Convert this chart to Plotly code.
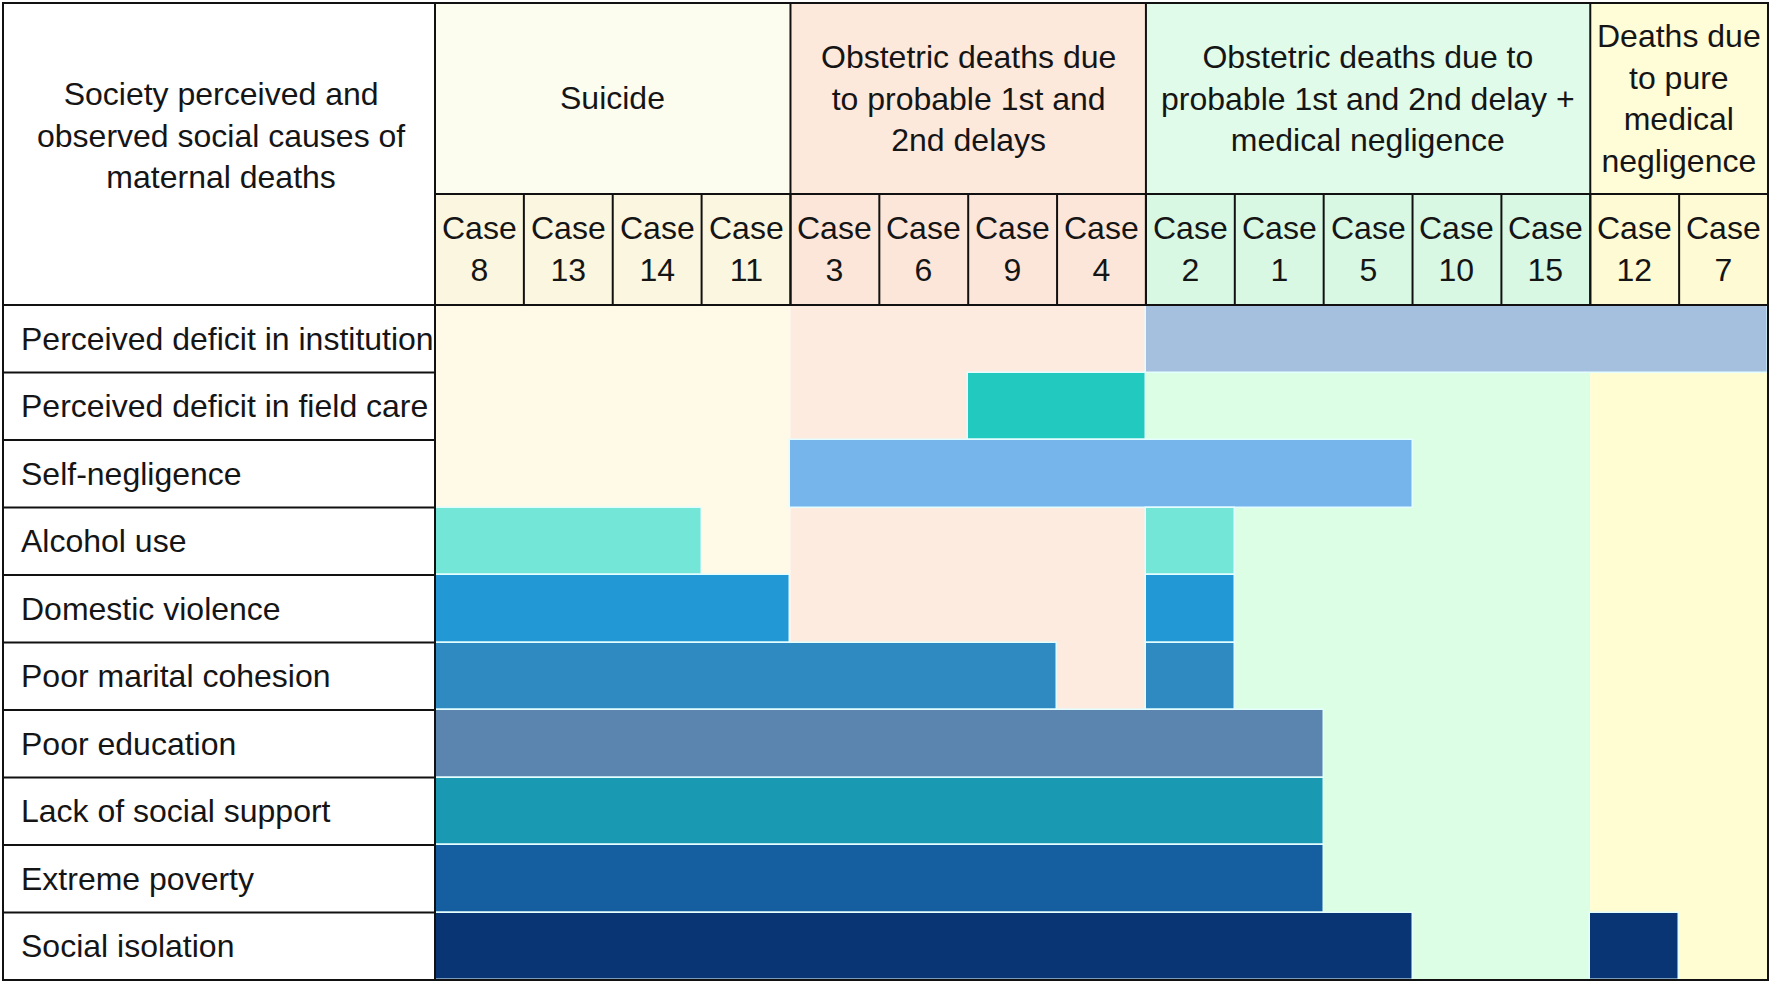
import plotly.graph_objects as go

# ---------------- data ----------------
cases = ["8", "13", "14", "11", "3", "6", "9", "4", "2", "1", "5", "10", "15", "12", "7"]

group_names = [
    "Suicide",
    "Obstetric deaths due<br>to probable 1st and<br>2nd delays",
    "Obstetric deaths due to<br>probable 1st and 2nd delay +<br>medical negligence",
    "Deaths due<br>to pure<br>medical<br>negligence",
]
group_sizes = [4, 4, 5, 2]
group_head_colors = ["#FDFDEF", "#FDE8DC", "#E1FBEA", "#FFFCD8"]
case_head_colors = ["#FBF6DF", "#FCE6D9", "#D9F8E4", "#FEFAD3"]
group_body_colors = ["#FFF9E7", "#FDEBE0", "#DCFEE4", "#FFFDD1"]

corner_title = "Society perceived and<br>observed social causes of<br>maternal deaths"

factors = [
    "Perceived deficit in institution",
    "Perceived deficit in field care",
    "Self-negligence",
    "Alcohol use",
    "Domestic violence",
    "Poor marital cohesion",
    "Poor education",
    "Lack of social support",
    "Extreme poverty",
    "Social isolation",
]
factor_colors = ["#A5C0DE", "#22C9BF", "#76B5EC", "#73E6D8", "#2298D5",
                 "#2E8AC0", "#5B85AF", "#1A99B3", "#155E9F", "#0A3575"]

# presence (1) of each factor per case, in the order of `cases`
deficit_institution = [0, 0, 0, 0, 0, 0, 0, 0, 1, 1, 1, 1, 1, 1, 1]
deficit_field_care  = [0, 0, 0, 0, 0, 0, 1, 1, 0, 0, 0, 0, 0, 0, 0]
self_negligence     = [0, 0, 0, 0, 1, 1, 1, 1, 1, 1, 1, 0, 0, 0, 0]
alcohol_use         = [1, 1, 1, 0, 0, 0, 0, 0, 1, 0, 0, 0, 0, 0, 0]
domestic_violence   = [1, 1, 1, 1, 0, 0, 0, 0, 1, 0, 0, 0, 0, 0, 0]
marital_cohesion    = [1, 1, 1, 1, 1, 1, 1, 0, 1, 0, 0, 0, 0, 0, 0]
poor_education      = [1, 1, 1, 1, 1, 1, 1, 1, 1, 1, 0, 0, 0, 0, 0]
social_support      = [1, 1, 1, 1, 1, 1, 1, 1, 1, 1, 0, 0, 0, 0, 0]
extreme_poverty     = [1, 1, 1, 1, 1, 1, 1, 1, 1, 1, 0, 0, 0, 0, 0]
social_isolation    = [1, 1, 1, 1, 1, 1, 1, 1, 1, 1, 1, 0, 0, 1, 0]

presence = [deficit_institution, deficit_field_care, self_negligence, alcohol_use,
            domestic_violence, marital_cohesion, poor_education, social_support,
            extreme_poverty, social_isolation]

# ---------------- layout geometry ----------------
W, H = 1770, 983
L, R, T, B = 435, 2, 305, 3
Y_TOP, Y_MID = 3, 194
X_LEFT = 3
FONT = "Liberation Sans, Arial, Helvetica, sans-serif"
FS = 32
TXT = "#151515"


def py(Y):
    return (H - B - Y) / (H - T - B)


def pxp(X):
    return (X - L) / (W - L - R)


fig = go.Figure()

# bars: merge contiguous present cases into segments
for i, f in enumerate(factors):
    row = presence[i]
    bases, lengths = [], []
    j = 0
    while j < len(row):
        if row[j]:
            k = j
            while k + 1 < len(row) and row[k + 1]:
                k += 1
            bases.append(j - 0.5)
            lengths.append(k - j + 1)
            j = k + 1
        else:
            j += 1
    if bases:
        fig.add_trace(go.Bar(
            y=[f] * len(bases), x=lengths, base=bases, orientation="h", width=1,
            marker=dict(color=factor_colors[i], line=dict(color="#E4FDFF", width=1.5)),
            hoverinfo="skip", showlegend=False))

shapes = []
annotations = []

# group backgrounds and headers
start = 0
group_bounds = []
for g, size in enumerate(group_sizes):
    x0, x1 = start - 0.5, start + size - 0.5
    group_bounds.append((x0, x1))
    shapes.append(dict(type="rect", xref="x", yref="paper", x0=x0, x1=x1, y0=0, y1=1,
                       fillcolor=group_body_colors[g], line=dict(width=0), layer="below"))
    shapes.append(dict(type="rect", xref="x", yref="paper", x0=x0, x1=x1,
                       y0=py(Y_MID), y1=py(Y_TOP),
                       fillcolor=group_head_colors[g], line=dict(width=0), layer="below"))
    for c in range(start, start + size):
        shapes.append(dict(type="rect", xref="x", yref="paper", x0=c - 0.5, x1=c + 0.5,
                           y0=1, y1=py(Y_MID),
                           fillcolor=case_head_colors[g], line=dict(width=0), layer="below"))
    annotations.append(dict(text=group_names[g], xref="x", yref="paper",
                            x=(x0 + x1) / 2, y=py(98), xanchor="center", yanchor="middle",
                            showarrow=False, font=dict(family=FONT, size=FS, color=TXT)))
    start += size

# case labels
for c, name in enumerate(cases):
    annotations.append(dict(text="Case<br>" + name, xref="x", yref="paper",
                            x=c, y=py(249), xanchor="center", yanchor="middle",
                            showarrow=False, font=dict(family=FONT, size=FS, color=TXT)))

# corner title
annotations.append(dict(text=corner_title, xref="paper", yref="paper",
                        x=pxp(221), y=py(135), xanchor="center", yanchor="middle",
                        showarrow=False, font=dict(family=FONT, size=FS, color=TXT)))

# row labels
for f in factors:
    annotations.append(dict(text=f, xref="paper", yref="y", x=pxp(19), y=f,
                            xanchor="left", yanchor="middle", showarrow=False,
                            font=dict(family=FONT, size=FS, color=TXT)))

# lines
LINE = dict(color="#111111", width=2)
n = len(cases)
# outer border
shapes.append(dict(type="rect", xref="paper", yref="paper", x0=pxp(X_LEFT), x1=1,
                   y0=0, y1=py(Y_TOP), line=LINE, layer="above"))
# left column divider
shapes.append(dict(type="line", xref="paper", yref="paper", x0=0, x1=0,
                   y0=0, y1=py(Y_TOP), line=LINE, layer="above"))
# header / body divider
shapes.append(dict(type="line", xref="paper", yref="paper", x0=pxp(X_LEFT), x1=1,
                   y0=1, y1=1, line=LINE, layer="above"))
# group header bottom
shapes.append(dict(type="line", xref="paper", yref="paper", x0=0, x1=1,
                   y0=py(Y_MID), y1=py(Y_MID), line=LINE, layer="above"))
# group dividers
for x0, x1 in group_bounds[1:]:
    shapes.append(dict(type="line", xref="x", yref="paper", x0=x0, x1=x0,
                       y0=1, y1=py(Y_TOP), line=LINE, layer="above"))
# case dividers
for c in range(1, n):
    shapes.append(dict(type="line", xref="x", yref="paper", x0=c - 0.5, x1=c - 0.5,
                       y0=1, y1=py(Y_MID), line=LINE, layer="above"))
# left column row dividers
for r in range(1, len(factors)):
    yy = r / len(factors)
    shapes.append(dict(type="line", xref="paper", yref="paper", x0=pxp(X_LEFT), x1=0,
                       y0=yy, y1=yy, line=LINE, layer="above"))

fig.update_layout(
    width=W, height=H,
    margin=dict(l=L, r=R, t=T, b=B, pad=0),
    paper_bgcolor="white", plot_bgcolor="white",
    barmode="overlay", bargap=0,
    showlegend=False,
    xaxis=dict(range=[-0.5, n - 0.5], visible=False, fixedrange=True),
    yaxis=dict(type="category", categoryorder="array", categoryarray=factors,
               range=[len(factors) - 0.5, -0.5], visible=False, fixedrange=True),
    shapes=shapes,
    annotations=annotations,
)

fig.write_html(
    "out.html",
    config={"displayModeBar": False},
    post_script="document.body.style.margin='0';document.body.style.overflow='hidden';",
)
